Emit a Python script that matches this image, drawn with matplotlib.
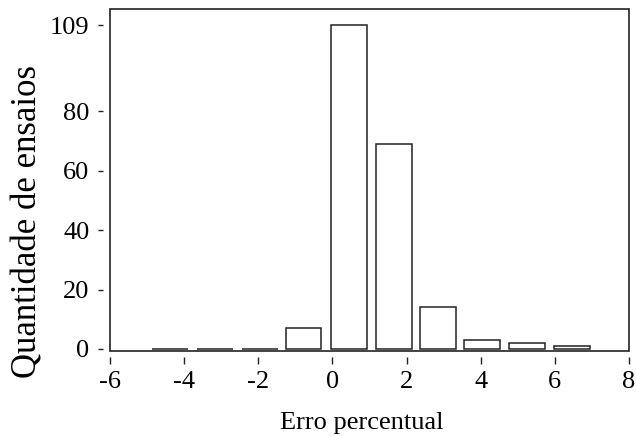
import matplotlib
matplotlib.use("Agg")
import matplotlib.pyplot as plt
from matplotlib.patches import Rectangle

# Data
bin_centers = [-4.39, -3.17, -1.95, -0.78, 0.44, 1.66, 2.84, 4.04, 5.24, 6.46]
counts = [0, 0, 0, 7, 109, 69, 14, 3, 2, 1]
x_ticks = [-6, -4, -2, 0, 2, 4, 6, 8]
y_ticks = [0, 20, 40, 60, 80, 109]
x_label = "Erro percentual"
y_label = "Quantidade de ensaios"

plt.rcParams['font.family'] = ['Liberation Serif', 'DejaVu Serif']

W, H = 636, 436
fig = plt.figure(figsize=(W / 100, H / 100), dpi=100)
left, right, top, bottom = 110, 629, 9, 351
ax = fig.add_axes([left / W, 1 - bottom / H, (right - left) / W, (bottom - top) / H])

ax.bar(bin_centers, counts, width=0.97, facecolor='white', edgecolor='#222222',
       linewidth=1.1, zorder=2)

ax.set_xlim(-6, 8)
ax.set_ylim(-0.7, 114.5)
ax.set_xticks(x_ticks)
ax.set_xticklabels([str(v) for v in x_ticks])
ax.set_yticks(y_ticks)
ax.set_yticklabels([str(v) for v in y_ticks])

for s in ax.spines.values():
    s.set_visible(False)
ax.spines['bottom'].set_position(('outward', 4.3))
ax.spines['left'].set_position(('outward', 5.0))

ax.add_patch(Rectangle((0, 0), 1, 1, transform=ax.transAxes, fill=False,
                       edgecolor='#222222', linewidth=1.2, clip_on=False, zorder=3))

ax.tick_params(axis='x', direction='out', length=4.8, width=1.0, color='#222222',
               pad=5.5, labelsize=19)
ax.tick_params(axis='y', direction='out', length=3.6, width=1.0, color='#222222',
               pad=6.2, labelsize=19)

ax.set_xlabel(x_label, fontsize=19)
ax.xaxis.label.set_va('baseline')
ax.xaxis.set_label_coords(0.486, (351 - 429) / 342)
ax.set_ylabel(y_label, fontsize=25)
ax.yaxis.label.set_va('center')
ax.yaxis.set_label_coords(-0.158, 0.379)

fig.savefig("out.png", dpi=100)
